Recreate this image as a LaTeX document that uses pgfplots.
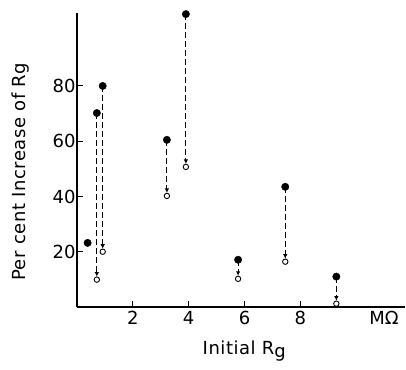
\documentclass[border=0pt]{standalone}
\usepackage{pgfplots}
\pgfplotsset{compat=1.18}
\usepackage{pgfplotstable}
\usepackage{fontspec}
\setmainfont{DejaVu Sans}
\usetikzlibrary{arrows.meta}

\pgfplotstableread{
x yf yo
0.71 70.2 9.9
0.92 80.0 20.0
3.22 60.5 40.2
3.90 106.0 50.7
5.77 17.1 10.2
7.46 43.5 16.4
9.29 11.0 1.2
}\pairs

\begin{document}
\begin{tikzpicture}
\begin{axis}[
  scale only axis,
  width=328pt, height=294pt,
  xmin=0, xmax=11.75, ymin=0, ymax=106.4,
  axis lines=left,
  axis line style={-, line width=1.6pt},
  tick align=inside,
  major tick length=6pt,
  tick style={line width=0.9pt, black},
  xtick={2,4,6,8},
  ytick={20,40,60,80},
  extra x ticks={11},
  extra x tick labels={MΩ},
  extra x tick style={major tick length=0pt},
  /pgf/number format/assume math mode=true,
  ticklabel style={font=\fontsize{18}{21}\selectfont},
  xticklabel style={yshift=-1pt},
  yticklabel style={xshift=2pt},
  xlabel={Initial R\raisebox{-0.35ex}{g}},
  ylabel={Per cent Increase of Rg},
  label style={font=\addfontfeature{LetterSpace=3}\fontsize{18}{21}\selectfont},
  xlabel style={at={(axis description cs:0.51,-0.15)}, anchor=center},
  ylabel style={at={(axis description cs:-0.172,0.46)}, anchor=center},
  clip=false,
]
\path (rel axis cs:-0.2348,-0.2109) rectangle (rel axis cs:1.003,1.0442);
\pgfplotsinvokeforeach{0,...,6}{
  \pgfplotstablegetelem{#1}{x}\of\pairs \let\xx\pgfplotsretval
  \pgfplotstablegetelem{#1}{yf}\of\pairs \let\yf\pgfplotsretval
  \pgfplotstablegetelem{#1}{yo}\of\pairs \let\yo\pgfplotsretval
  \edef\tmp{\noexpand\addplot[black, line width=1.1pt, dash pattern=on 6pt off 3pt,
    -{Latex[length=4.5pt,width=4.5pt]}, shorten >=3pt, forget plot]
    coordinates {(\xx,\yf) (\xx,\yo)};}
  \tmp
}
\addplot[only marks, mark=*, mark size=3.7pt, black] table[x=x,y=yf]{\pairs};
\addplot[only marks, mark=*, mark size=3.7pt, black] coordinates {(0.38,23.2)};
\addplot[only marks, mark=o, mark size=2.7pt, line width=0.9pt, black, mark options={fill=white}] table[x=x,y=yo]{\pairs};
\end{axis}
\end{tikzpicture}
\end{document}
